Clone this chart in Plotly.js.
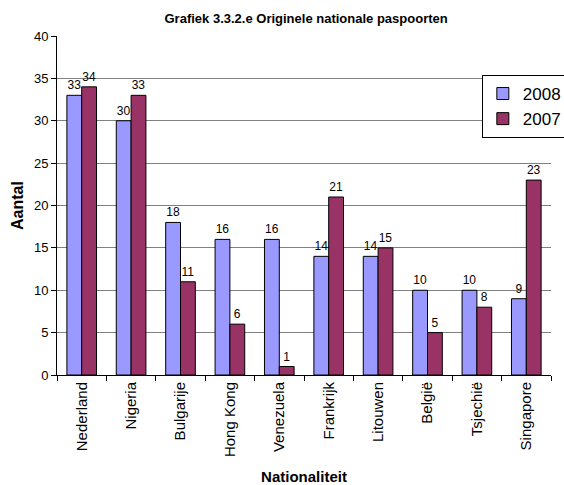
<!DOCTYPE html>
<html><head><meta charset="utf-8">
<script src="https://cdn.plot.ly/plotly-3.0.1.min.js"></script>
<style>html,body{margin:0;padding:0;overflow:hidden;background:#fff}</style>
</head><body><div id="chart"></div>
<script>
const categories = ["Nederland","Nigeria","Bulgarije","Hong Kong","Venezuela","Frankrijk","Litouwen","België","Tsjechië","Singapore"];
const values2008 = [33,30,18,16,16,14,14,10,10,9];
const values2007 = [34,33,11,6,1,21,15,5,8,23];
const yTicks = [0,5,10,15,20,25,30,35,40];

const font = "Liberation Sans, Arial, sans-serif";
const lblFont = {family:font,size:12,color:"#000000"};
const traces = [
  {type:"bar", name:"2008", x:categories, y:values2008, text:values2008.map(String), textposition:"outside",
   textfont:lblFont, outsidetextfont:lblFont, cliponaxis:false,
   marker:{color:"#9999FF", line:{color:"#000", width:1}}},
  {type:"bar", name:"2007", x:categories, y:values2007, text:values2007.map(String), textposition:"outside",
   textfont:lblFont, outsidetextfont:lblFont, cliponaxis:false,
   marker:{color:"#993366", line:{color:"#000", width:1}}}
];
const layout = {
  width:570, height:485,
  margin:{l:57, r:3, t:36, b:110},
  paper_bgcolor:"#fff", plot_bgcolor:"#fff",
  font:{family:font, size:12, color:"#000"},
  title:{text:"<b>Grafiek 3.3.2.e Originele nationale paspoorten</b>", font:{size:13}, x:0.537, xanchor:"center", y:0.961, yanchor:"middle"},
  barmode:"group", bargap:0.4, bargroupgap:0,
  showlegend:true,
  legend:{x:0.86, y:0.885, xanchor:"left", yanchor:"top", bgcolor:"#fff", bordercolor:"#000", borderwidth:1,
    font:{size:17}, tracegroupgap:0},
  xaxis:{type:"category", tickangle:-90, tickson:"boundaries", ticks:"outside", ticklen:5, tickcolor:"#000",
    showline:true, linecolor:"#000", linewidth:1, tickfont:{size:15},
    title:{text:"<b>Nationaliteit</b>", font:{size:15}, standoff:16}},
  yaxis:{range:[0,40], tickvals:yTicks, ticks:"outside", ticklen:5, tickcolor:"#000",
    showline:true, linecolor:"#000", linewidth:1, showgrid:true, gridcolor:"#808080", gridwidth:1,
    zeroline:false, tickfont:{size:13},
    title:{text:"<b>Aantal</b>", font:{size:16}, standoff:6}}
};
Plotly.newPlot("chart", traces, layout, {displayModeBar:false, staticPlot:true});
</script></body></html>
